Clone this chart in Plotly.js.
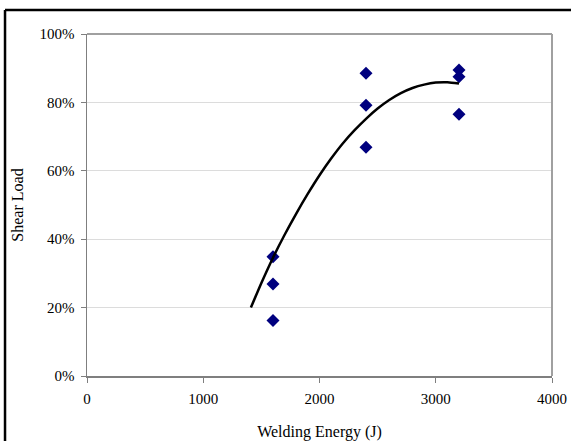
<!DOCTYPE html>
<html>
<head>
<meta charset="utf-8">
<script src="https://cdn.plot.ly/plotly-3.0.1.min.js"></script>
<style>
html,body{margin:0;padding:0;background:#fff;}
#chart{width:571px;height:441px;}
</style>
</head>
<body>
<div id="chart"></div>
<script>
// Measured data points (Welding Energy in J, Shear Load in %)
const energy = [1600, 1600, 1600, 2400, 2400, 2400, 3200, 3200, 3200];
const shearLoad = [34.9, 26.9, 16.2, 88.5, 79.2, 66.9, 89.5, 87.5, 76.5];

// Trend line
const trendX = [1410, 1500, 1600, 1700, 1800, 1900, 2000, 2100, 2200, 2300, 2400, 2500, 2600, 2700, 2800, 2900, 3000, 3100, 3200];
const trendY = [20.0, 27.2, 34.6, 41.3, 47.5, 53.3, 58.7, 63.6, 68.0, 71.8, 75.2, 78.2, 80.7, 82.7, 84.2, 85.2, 85.8, 85.9, 85.5];

const xTicks = [0, 1000, 2000, 3000, 4000];
const yTicks = [0, 20, 40, 60, 80, 100];

const serif = '"Liberation Serif", "Times New Roman", serif';

const traces = [
  {
    x: energy, y: shearLoad, type: 'scatter', mode: 'markers',
    marker: {symbol: 'diamond', size: 10, color: '#00007f', line: {width: 0}},
    hoverinfo: 'skip', showlegend: false
  },
  {
    x: trendX, y: trendY, type: 'scatter', mode: 'lines',
    line: {color: '#000000', width: 2.5, shape: 'spline', smoothing: 0.6},
    hoverinfo: 'skip', showlegend: false
  }
];

const layout = {
  width: 571, height: 441,
  margin: {l: 87, r: 19, t: 34, b: 65},
  paper_bgcolor: '#ffffff', plot_bgcolor: '#ffffff',
  font: {family: serif, size: 15, color: '#000'},
  showlegend: false,
  xaxis: {
    range: [0, 4000], tickvals: xTicks, ticktext: xTicks.map(String),
    showgrid: false, zeroline: false,
    showline: true, linecolor: '#7f7f7f', linewidth: 1.5, mirror: false,
    ticks: 'outside', ticklen: 5, tickcolor: '#7f7f7f', ticklabelstandoff: 3,
    tickfont: {family: serif, size: 15, color: '#000'},
    title: {text: 'Welding Energy (J)', font: {family: serif, size: 16, color: '#000'}, standoff: 20}
  },
  yaxis: {
    range: [0, 100], tickvals: yTicks, ticktext: yTicks.map(v => v + '%'),
    showgrid: true, gridcolor: '#dcdcdc', gridwidth: 1, zeroline: false,
    showline: true, linecolor: '#7f7f7f', linewidth: 1.5, mirror: false,
    ticks: 'outside', ticklen: 5, tickcolor: '#7f7f7f', ticklabelstandoff: 3,
    tickfont: {family: serif, size: 15, color: '#000'},
    title: {text: 'Shear Load', font: {family: serif, size: 16, color: '#000'}, standoff: 12}
  },
  shapes: [
    // plot area top & right border
    {type: 'line', xref: 'paper', yref: 'paper', x0: 0, x1: 1, y0: 1, y1: 1, line: {color: '#a0a0a0', width: 2}},
    {type: 'line', xref: 'paper', yref: 'paper', x0: 1, x1: 1, y0: 0, y1: 1, line: {color: '#a0a0a0', width: 2}},
    // outer chart frame (left & top)
    {type: 'line', xref: 'paper', yref: 'paper', x0: -0.1763, x1: -0.1763, y0: -0.2, y1: 1.0702, line: {color: '#000', width: 2.5}},
    {type: 'line', xref: 'paper', yref: 'paper', x0: -0.1763, x1: 1.05, y0: 1.0702, y1: 1.0702, line: {color: '#000', width: 2.5}}
  ]
};

Plotly.newPlot('chart', traces, layout, {displayModeBar: false, staticPlot: true});
</script>
</body>
</html>
